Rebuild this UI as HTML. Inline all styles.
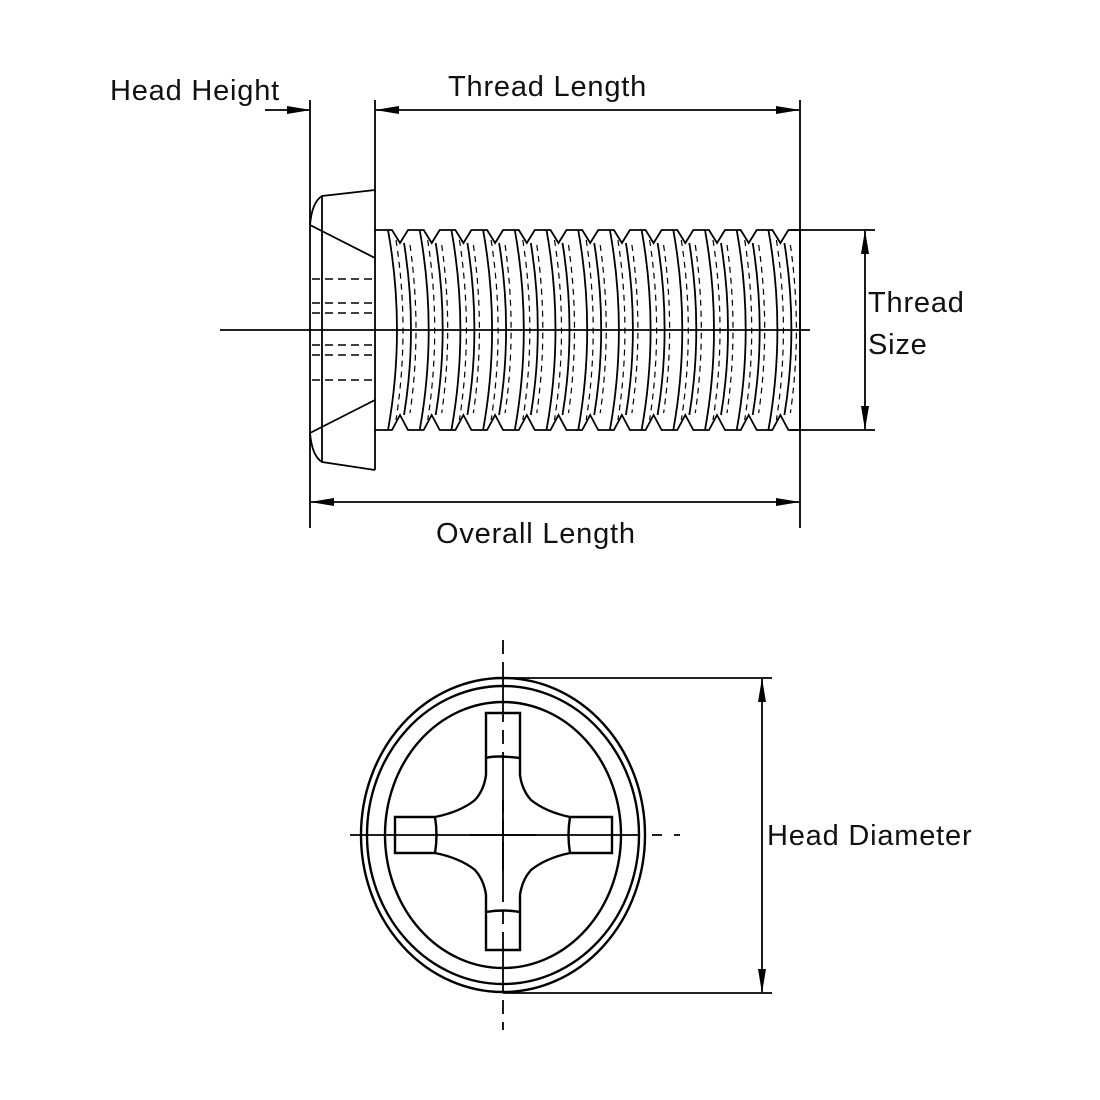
<!DOCTYPE html>
<html><head><meta charset="utf-8"><style>
html,body{margin:0;padding:0;background:#fff;}
svg{display:block}
text{font-family:"Liberation Sans",sans-serif;font-size:29px;letter-spacing:0.8px;fill:#111}
</style></head><body>
<svg id="s" width="1100" height="1100" viewBox="0 0 1100 1100" xmlns="http://www.w3.org/2000/svg">
<defs>
<marker id="a" markerWidth="24" markerHeight="10" refX="23" refY="5" orient="auto" markerUnits="userSpaceOnUse"><path d="M0,1 L24,5 L0,9 Z" fill="#000"/></marker>
</defs>
<g stroke="#000" fill="none" stroke-width="1.8">
<line x1="310" y1="100" x2="310" y2="528"/>
<line x1="375" y1="100" x2="375" y2="192"/>
<line x1="800" y1="100" x2="800" y2="528"/>
<line x1="265" y1="110" x2="310" y2="110" marker-end="url(#a)"/>
<line x1="590" y1="110" x2="376" y2="110" marker-end="url(#a)"/>
<line x1="590" y1="110" x2="799" y2="110" marker-end="url(#a)"/>
<line x1="555" y1="502" x2="311" y2="502" marker-end="url(#a)"/>
<line x1="555" y1="502" x2="799" y2="502" marker-end="url(#a)"/>
<line x1="790" y1="230" x2="875" y2="230"/>
<line x1="790" y1="430" x2="875" y2="430"/>
<line x1="865" y1="330" x2="865" y2="231" marker-end="url(#a)"/>
<line x1="865" y1="330" x2="865" y2="429" marker-end="url(#a)"/>
<line x1="220" y1="330" x2="810" y2="330"/>
<path d="M375,190 L322,196 Q312,202 310,225"/>
<path d="M375,470 L322,462 Q312,456 310,433"/>
<line x1="322" y1="196" x2="322" y2="462"/>
<line x1="375" y1="190" x2="375" y2="470"/>
<line x1="310" y1="225" x2="375" y2="258"/>
<line x1="310" y1="433" x2="375" y2="400"/>
<g stroke-dasharray="8,5" stroke-width="1.5">
<line x1="312" y1="279" x2="372" y2="279"/>
<line x1="312" y1="303" x2="372" y2="303"/>
<line x1="312" y1="313" x2="372" y2="313"/>
<line x1="312" y1="345" x2="372" y2="345"/>
<line x1="312" y1="355" x2="372" y2="355"/>
<line x1="312" y1="380" x2="372" y2="380"/>
</g>
<g id="thr"></g>
<line x1="503" y1="640" x2="503" y2="1030" stroke-dasharray="14,8,60,8"/>
<line x1="350" y1="835" x2="680" y2="835" stroke-dasharray="290,12,10,12"/>
<g stroke-width="2.4">
<ellipse cx="503" cy="835" rx="142" ry="157"/>
<ellipse cx="503" cy="835" rx="136" ry="149"/>
<ellipse cx="503" cy="835" rx="118" ry="133"/>
<path d="M486,760 L486,713 L520,713 L520,760 M486,758 Q495,755 520,758
 M486,760 L486,775 Q484,790 475,800 Q460,812 435,817 L395,817 L395,853 L435,853 Q460,858 475,870 Q484,880 486,895 L486,950 L520,950 L520,895 Q522,880 531,870 Q546,858 570,853 L612,853 L612,817 L570,817 Q546,812 531,800 Q522,790 520,775 L520,760
 M435,817 Q438,835 435,853 M570,817 Q567,835 570,853 M486,912 Q503,909 520,912"/>
</g>
<line x1="503" y1="678" x2="772" y2="678"/>
<line x1="503" y1="993" x2="772" y2="993"/>
<line x1="762" y1="835" x2="762" y2="679" marker-end="url(#a)"/>
<line x1="762" y1="835" x2="762" y2="992" marker-end="url(#a)"/>
<line x1="470" y1="835" x2="536" y2="835"/>
<line x1="503" y1="800" x2="503" y2="870"/>
</g>
<text x="110" y="100">Head Height</text>
<text x="448" y="96">Thread Length</text>
<text x="868" y="312">Thread</text>
<text x="868" y="354">Size</text>
<text x="436" y="543">Overall Length</text>
<text x="767" y="845">Head Diameter</text>
</svg>
<script>
(function(){
var g=document.getElementById('thr'),h='';
var tp='M375,230',bt='M375,430';
for(var i=0;i<13;i++){var x=384+i*31.7;
tp+=' L'+(x)+',230 L'+(x+8)+',230 L'+(x+16)+',243 L'+(x+24)+',230';
bt+=' L'+(x)+',430 L'+(x+8)+',430 L'+(x+16)+',415 L'+(x+24)+',430';
h+='<path d="M'+(x+4)+',230 Q'+(x+22)+',330 '+(x+4)+',430" />';
h+='<path d="M'+(x+20)+',243 Q'+(x+34)+',330 '+(x+20)+',415" />';
h+='<path d="M'+(x+12)+',240 Q'+(x+26)+',330 '+(x+12)+',420" stroke-dasharray="6,5" stroke-width="1.2"/>';
h+='<path d="M'+(x+26)+',245 Q'+(x+38)+',330 '+(x+26)+',413" stroke-dasharray="6,5" stroke-width="1.2"/>';
}
tp+=' L800,230';bt+=' L800,430';
g.innerHTML='<path d="'+tp+'"/><path d="'+bt+'"/><line x1="800" y1="230" x2="800" y2="430"/>'+h;
})();
</script>
</body></html>
